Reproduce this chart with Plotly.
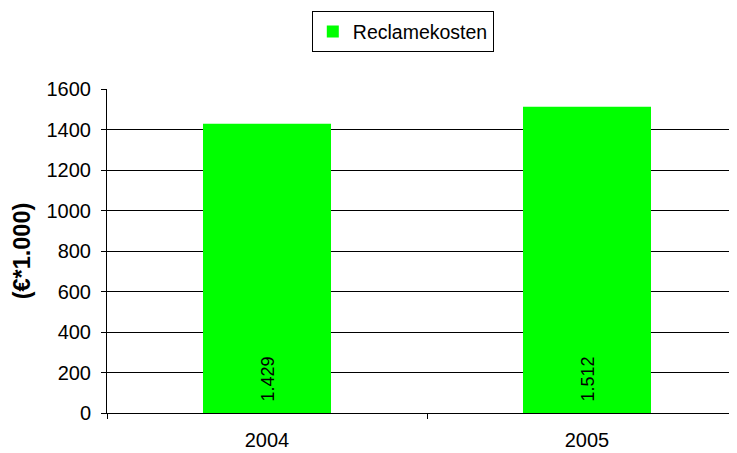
import plotly.graph_objects as go

years = ["2004", "2005"]
reclamekosten = [1429, 1512]
labels = ["1.429", "1.512"]
y_ticks = [0, 200, 400, 600, 800, 1000, 1200, 1400, 1600]

FONT = "Liberation Sans, Arial, sans-serif"

fig = go.Figure()
fig.add_trace(go.Bar(
    x=years, y=reclamekosten, name="Reclamekosten",
    marker=dict(color="#00FF00", line=dict(width=0)),
    width=0.4,
))

for i, lab in enumerate(labels):
    fig.add_annotation(
        x=i, y=0, xref="x", yref="y", text=lab, showarrow=False,
        textangle=-90, xanchor="center", yanchor="bottom", yshift=9,
        font=dict(family=FONT, size=18, color="black"),
    )

fig.update_layout(
    width=737, height=453,
    margin=dict(l=99, r=0, t=81, b=48, autoexpand=False),
    paper_bgcolor="white", plot_bgcolor="white",
    font=dict(family=FONT, size=20, color="black"),
    showlegend=True,
    legend=dict(
        x=0.321, xanchor="left", y=1.24, yanchor="top",
        bordercolor="black", borderwidth=1, bgcolor="white",
        font=dict(family=FONT, size=19.5, color="black"),
        itemwidth=30, itemsizing="constant",
    ),
    xaxis=dict(
        type="category", range=[-0.5, 1.49375],
        showline=True, linecolor="black", linewidth=1,
        ticks="outside", tickson="boundaries", ticklen=5, tickcolor="black",
        showgrid=False, tickfont=dict(family=FONT, size=20),
        ticklabelstandoff=9,
        automargin=False,
    ),
    yaxis=dict(
        range=[0, 1600], tickvals=y_ticks,
        showline=True, linecolor="black", linewidth=1,
        ticks="outside", ticklen=5, tickcolor="black",
        showgrid=True, gridcolor="black", gridwidth=1,
        zeroline=False, automargin=False,
        tickfont=dict(family=FONT, size=20),
        ticklabelstandoff=6,
        title=dict(text="<b>(€*1.000)</b>", font=dict(family=FONT, size=23.5), standoff=9),
    ),
)

fig.write_html("out.html")
